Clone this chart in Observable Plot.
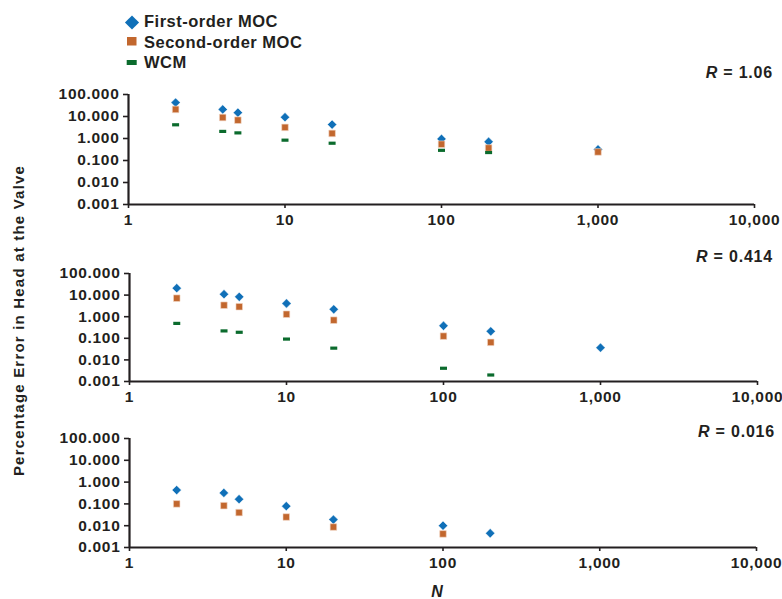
<!DOCTYPE html>
<html>
<head>
<meta charset="utf-8">
<script src="https://cdn.jsdelivr.net/npm/d3@7"></script>
<script src="https://cdn.jsdelivr.net/npm/@observablehq/plot@0.6"></script>
<style>
  html, body { margin: 0; padding: 0; background: #fff; }
  #chart { position: relative; width: 782px; height: 599px; overflow: hidden; background: #fff; font-family: "Liberation Sans", Arial, sans-serif; }
  #chart > svg, #chart > div { position: absolute; left: 0; }
</style>
</head>
<body>
<div id="chart"></div>
<script>
// ---- Data ----
const N = [2, 4, 5, 10, 20, 100, 200, 1000];
const seriesNames = ["First-order MOC", "Second-order MOC", "WCM"];
const rLabels = ["1.06", "0.414", "0.016"];
// R = 1.06
const first1  = [43, 21, 15, 9.3, 4.3, 0.96, 0.71, 0.32];
const second1 = [21, 9, 6.8, 3.2, 1.7, 0.55, 0.37, 0.245];
const wcm1    = [4.2, 2.1, 1.8, 0.84, 0.61, 0.29, 0.23, null];
// R = 0.414
const first2  = [21, 11, 8.3, 4.1, 2.2, 0.38, 0.21, 0.037];
const second2 = [7.2, 3.4, 2.9, 1.3, 0.69, 0.126, 0.065, null];
const wcm2    = [0.49, 0.22, 0.19, 0.092, 0.035, 0.0041, 0.002, null];
// R = 0.016
const first3  = [0.43, 0.32, 0.165, 0.079, 0.019, 0.010, 0.0045, null];
const second3 = [0.10, 0.083, 0.040, 0.025, 0.0087, 0.0042, null, null];
const wcm3    = [null, null, null, null, null, null, null, null];

const xTicks = [1, 10, 100, 1000, 10000];
const yTicks = [0.001, 0.01, 0.1, 1, 10, 100];
const yAxisTitle = "Percentage Error in Head at the Valve";
const xAxisTitle = "N";

// ---- Styles ----
const BLUE = "#1070b8", ORANGE = "#c2672e", GREEN = "#0b6b2d", INK = "#231f20";
const FONT = "'Liberation Sans', Arial, Helvetica, sans-serif";

const dashSymbol = { draw(ctx) { ctx.rect(-3.5, -1.6, 7, 3.2); } };

function rows(vals) {
  return N.map((n, i) => ({N: n, v: vals[i]})).filter(d => d.v != null);
}

const panels = [
  {r: rLabels[0], first: first1, second: second1, wcm: wcm1, top: 60,  height: 175, mt: 34, mb: 31, ml: 128, mr: 28, rX: 773, rY: 18},
  {r: rLabels[1], first: first2, second: second2, wcm: wcm2, top: 240, height: 172, mt: 33, mb: 31, ml: 129, mr: 25, rX: 773, rY: 22},
  {r: rLabels[2], first: first3, second: second3, wcm: wcm3, top: 400, height: 177, mt: 38, mb: 30, ml: 129, mr: 26, rX: 775, rY: 37}
];

const chart = document.getElementById("chart");

for (const p of panels) {
  const svg = Plot.plot({
    width: 782,
    height: p.height,
    marginTop: p.mt, marginBottom: p.mb, marginLeft: p.ml, marginRight: p.mr,
    style: {fontFamily: FONT, fontSize: "15.5px", fontWeight: "bold", color: INK, background: "transparent", overflow: "visible"},
    x: {type: "log", domain: [1, 10000]},
    y: {type: "log", domain: [0.001, 100]},
    marks: [
      Plot.axisX({ticks: xTicks, tickFormat: d3.format(","), tickSize: 4, tickPadding: 5, label: null, stroke: INK, strokeWidth: 1.6, fill: INK, fontWeight: "bold"}),
      Plot.axisY({ticks: yTicks, tickFormat: d => d.toFixed(3), tickSize: 5, tickPadding: 4, label: null, stroke: INK, strokeWidth: 1.6, fill: INK, fontWeight: "bold"}),
      Plot.ruleY([0.001], {stroke: INK, strokeWidth: 2.2}),
      Plot.ruleX([1], {stroke: INK, strokeWidth: 2.2}),
      Plot.dot(rows(p.first), {x: "N", y: "v", symbol: "diamond2", r: 4.2, fill: BLUE, stroke: "#fff", strokeWidth: 0.5}),
      Plot.dot(rows(p.second), {x: "N", y: "v", symbol: "square", r: 3.7, fill: ORANGE, stroke: "#f3d9c8", strokeWidth: 0.6}),
      Plot.dot(rows(p.wcm), {x: "N", y: "v", symbol: dashSymbol, fill: GREEN, stroke: "none"})
    ]
  });
  svg.style.top = p.top + "px";
  const s = d3.select(svg);
  s.selectAll("text").style("letter-spacing", "0.7px").style("font-weight", "bold");
  const t = s.append("text")
    .attr("x", p.rX).attr("y", p.rY)
    .attr("text-anchor", "end")
    .attr("fill", INK)
    .style("font-family", FONT).style("font-size", "16px").style("font-weight", "bold")
    .style("letter-spacing", "0.8px");
  t.append("tspan").style("font-style", "italic").text("R");
  t.append("tspan").text(" = " + p.r);
  chart.appendChild(svg);
}

// ---- Overlay: legend, axis titles ----
const ov = d3.select(chart).append("svg")
  .attr("width", 782).attr("height", 599)
  .style("top", "0px").style("pointer-events", "none")
  .style("font-family", FONT).style("font-weight", "bold").style("fill", INK);

// legend
const lg = ov.append("g");
lg.append("rect").attr("x", -5).attr("y", -5).attr("width", 10).attr("height", 10)
  .attr("transform", "translate(132,22.5) rotate(45)").attr("fill", BLUE);
lg.append("rect").attr("x", 127).attr("y", 37).attr("width", 9.5).attr("height", 8.5).attr("fill", ORANGE);
lg.append("rect").attr("x", 126.7).attr("y", 60).attr("width", 10).attr("height", 5).attr("fill", GREEN);
const legY = [26.7, 48.3, 68.3];
seriesNames.forEach((name, i) => {
  lg.append("text").attr("x", 144).attr("y", legY[i])
    .style("font-size", "16.5px").style("letter-spacing", "0.5px").text(name);
});

// y-axis title
ov.append("text")
  .attr("transform", "translate(24,320.5) rotate(-90)")
  .attr("text-anchor", "middle")
  .style("font-size", "15px").style("letter-spacing", "1.2px")
  .text(yAxisTitle);

// x-axis title
ov.append("text")
  .attr("x", 437).attr("y", 597)
  .attr("text-anchor", "middle")
  .style("font-size", "16px").style("font-style", "italic")
  .text(xAxisTitle);
</script>
</body>
</html>
